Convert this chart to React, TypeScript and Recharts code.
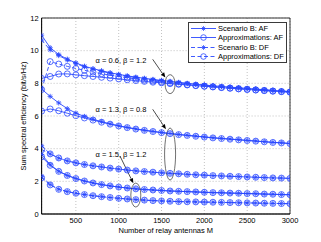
import React from 'react';
import {
  LineChart,
  Line,
  XAxis,
  YAxis,
  CartesianGrid,
  ReferenceArea,
  ReferenceLine,
  ReferenceDot,
  Legend,
} from 'recharts';

// ---- data ----
const relayAntennas = [
  100, 200, 300, 400, 500, 600, 700, 800, 900, 1000,
  1100, 1200, 1300, 1400, 1500, 1600, 1700, 1800, 1900, 2000,
  2100, 2200, 2300, 2400, 2500, 2600, 2700, 2800, 2900, 3000,
];

// alpha = 0.6, beta = 1.2
const g1AfExact = [10.95, 10.18, 9.76, 9.48, 9.25, 9.05, 8.9, 8.77, 8.65, 8.55, 8.46, 8.38, 8.31, 8.24, 8.18, 8.12, 8.06, 8.0, 7.95, 7.9, 7.85, 7.81, 7.77, 7.73, 7.69, 7.65, 7.61, 7.57, 7.54, 7.5];
const g1AfApprox = [8.3, 8.42, 8.57, 8.58, 8.52, 8.47, 8.42, 8.37, 8.32, 8.27, 8.22, 8.17, 8.12, 8.07, 8.03, 7.98, 7.94, 7.9, 7.86, 7.82, 7.78, 7.74, 7.7, 7.66, 7.63, 7.59, 7.56, 7.52, 7.49, 7.46];
const g1DfExact = [10.65, 10.05, 9.7, 9.43, 9.21, 9.02, 8.87, 8.74, 8.62, 8.52, 8.43, 8.35, 8.28, 8.21, 8.15, 8.09, 8.03, 7.98, 7.93, 7.88, 7.83, 7.79, 7.75, 7.71, 7.67, 7.63, 7.59, 7.56, 7.52, 7.49];
const g1DfApprox = [7.62, 9.33, 9.18, 9.04, 8.91, 8.8, 8.69, 8.59, 8.5, 8.42, 8.34, 8.27, 8.2, 8.14, 8.08, 8.03, 7.97, 7.92, 7.87, 7.83, 7.79, 7.75, 7.71, 7.67, 7.63, 7.6, 7.56, 7.53, 7.5, 7.47];

// alpha = 1.3, beta = 0.8
const g2AfExact = [7.65, 7.2, 6.8, 6.45, 6.18, 5.97, 5.8, 5.65, 5.52, 5.4, 5.3, 5.21, 5.13, 5.06, 4.99, 4.93, 4.87, 4.82, 4.77, 4.72, 4.67, 4.63, 4.59, 4.55, 4.51, 4.47, 4.43, 4.39, 4.36, 4.32];
const g2AfApprox = [6.3, 6.43, 6.32, 6.17, 6.02, 5.88, 5.75, 5.62, 5.5, 5.39, 5.29, 5.2, 5.12, 5.05, 4.98, 4.92, 4.86, 4.81, 4.76, 4.71, 4.66, 4.62, 4.58, 4.54, 4.5, 4.46, 4.42, 4.38, 4.35, 4.31];
const g2DfExact = [4.18, 3.68, 3.42, 3.25, 3.13, 3.03, 2.95, 2.88, 2.81, 2.75, 2.69, 2.64, 2.6, 2.56, 2.52, 2.49, 2.46, 2.43, 2.4, 2.38, 2.35, 2.33, 2.31, 2.29, 2.27, 2.25, 2.23, 2.21, 2.2, 2.18];
const g2DfApprox = [3.95, 3.68, 3.43, 3.25, 3.13, 3.03, 2.95, 2.88, 2.81, 2.75, 2.69, 2.64, 2.6, 2.56, 2.52, 2.49, 2.46, 2.43, 2.4, 2.38, 2.35, 2.33, 2.31, 2.29, 2.27, 2.25, 2.23, 2.21, 2.2, 2.18];

// alpha = 1.5, beta = 1.2
const g3AfExact = [3.65, 3.02, 2.62, 2.36, 2.17, 2.02, 1.9, 1.8, 1.72, 1.65, 1.59, 1.54, 1.5, 1.47, 1.44, 1.41, 1.39, 1.37, 1.35, 1.33, 1.31, 1.3, 1.28, 1.27, 1.25, 1.24, 1.22, 1.21, 1.19, 1.18];
const g3AfApprox = [3.5, 2.98, 2.61, 2.36, 2.17, 2.02, 1.9, 1.8, 1.72, 1.65, 1.59, 1.54, 1.5, 1.47, 1.44, 1.41, 1.39, 1.37, 1.35, 1.33, 1.31, 1.3, 1.28, 1.27, 1.25, 1.24, 1.22, 1.21, 1.19, 1.18];
const g3DfExact = [2.3, 1.8, 1.52, 1.37, 1.27, 1.19, 1.12, 1.06, 1.01, 0.96, 0.92, 0.88, 0.85, 0.82, 0.8, 0.78, 0.76, 0.75, 0.74, 0.73, 0.72, 0.71, 0.7, 0.69, 0.68, 0.67, 0.66, 0.65, 0.64, 0.63];
const g3DfApprox = [2.22, 1.78, 1.51, 1.37, 1.27, 1.19, 1.12, 1.06, 1.01, 0.96, 0.92, 0.88, 0.85, 0.82, 0.8, 0.78, 0.76, 0.75, 0.74, 0.73, 0.72, 0.71, 0.7, 0.69, 0.68, 0.67, 0.66, 0.65, 0.64, 0.63];

const xTicks = [500, 1000, 1500, 2000, 2500, 3000];
const yTicks = [0, 2, 4, 6, 8, 10, 12];

const legendLabels = ['Scenario B: AF', 'Approximations: AF', 'Scenario B: DF', 'Approximations: DF'];
const groupLabels = ['\u03b1 = 0.6, \u03b2 = 1.2', '\u03b1 = 1.3, \u03b2 = 0.8', '\u03b1 = 1.5, \u03b2 = 1.2'];
// annotation anchors in data coordinates
const labelAnchors = [
  { x: 1027, y: 9.39 },
  { x: 1027, y: 6.37 },
  { x: 1027, y: 3.66 },
];
const arrowSegments = [
  [{ x: 1397, y: 9.47 }, { x: 1545, y: 8.35 }],
  [{ x: 1397, y: 6.41 }, { x: 1552, y: 5.19 }],
  [{ x: 1015, y: 3.55 }, { x: 1171, y: 1.88 }],
];
const ellipseCenters = [
  { x: 1600, y: 7.95 },
  { x: 1600, y: 3.67 },
  { x: 1200, y: 1.16 },
];
const ellipseRadii = [
  [5, 9.5],
  [5.5, 26],
  [5, 12],
];

// ---- styling ----
const W = 321;
const H = 242;
const BLUE = '#2a48ff';
const FONT = '"Liberation Sans", Arial, Helvetica, sans-serif';
const DASH = '4 2.5';

type SeriesDef = { key: string; values: number[]; kind: 'afExact' | 'afApprox' | 'dfExact' | 'dfApprox' };

const series: SeriesDef[] = [
  { key: 'g1AfExact', values: g1AfExact, kind: 'afExact' },
  { key: 'g1AfApprox', values: g1AfApprox, kind: 'afApprox' },
  { key: 'g1DfExact', values: g1DfExact, kind: 'dfExact' },
  { key: 'g1DfApprox', values: g1DfApprox, kind: 'dfApprox' },
  { key: 'g2AfExact', values: g2AfExact, kind: 'afExact' },
  { key: 'g2AfApprox', values: g2AfApprox, kind: 'afApprox' },
  { key: 'g2DfExact', values: g2DfExact, kind: 'dfExact' },
  { key: 'g2DfApprox', values: g2DfApprox, kind: 'dfApprox' },
  { key: 'g3AfExact', values: g3AfExact, kind: 'afExact' },
  { key: 'g3AfApprox', values: g3AfApprox, kind: 'afApprox' },
  { key: 'g3DfExact', values: g3DfExact, kind: 'dfExact' },
  { key: 'g3DfApprox', values: g3DfApprox, kind: 'dfApprox' },
];

const rows = relayAntennas.map((m, i) => {
  const r: Record<string, number> = { M: m };
  series.forEach((s) => {
    r[s.key] = s.values[i];
  });
  return r;
});

const starShape = (cx: number, cy: number, s: number, k?: string | number) => (
  <g key={k} stroke={BLUE} strokeWidth={0.8}>
    <line x1={cx - s} y1={cy} x2={cx + s} y2={cy} />
    <line x1={cx} y1={cy - s} x2={cx} y2={cy + s} />
    <line x1={cx - s * 0.7} y1={cy - s * 0.7} x2={cx + s * 0.7} y2={cy + s * 0.7} />
    <line x1={cx - s * 0.7} y1={cy + s * 0.7} x2={cx + s * 0.7} y2={cy - s * 0.7} />
  </g>
);

const circleShape = (cx: number, cy: number, r: number, k?: string | number) => (
  <circle key={k} cx={cx} cy={cy} r={r} fill="none" stroke={BLUE} strokeWidth={0.8} />
);

const StarDot = (p: any) => {
  if (p.cx == null || p.cy == null) return <g key={p.index} />;
  return starShape(p.cx, p.cy, 2.6, p.index);
};
const CircleDot = (p: any) => {
  if (p.cx == null || p.cy == null) return <g key={p.index} />;
  return circleShape(p.cx, p.cy, 3, p.index);
};

const legendKinds: SeriesDef['kind'][] = ['afExact', 'afApprox', 'dfExact', 'dfApprox'];

const LegendBox = () => (
  <div
    style={{
      border: '1px solid #3a3a3a',
      background: '#fff',
      width: 97,
      height: 38,
      paddingTop: 0.5,
      boxSizing: 'content-box',
      fontFamily: FONT,
      fontSize: 7.5,
      color: '#000',
    }}
  >
    {legendLabels.map((lab, i) => {
      const kind = legendKinds[i];
      const dashed = kind.startsWith('df');
      const star = kind.endsWith('Exact');
      return (
        <div key={lab} style={{ display: 'flex', alignItems: 'center', height: 9.5, whiteSpace: 'nowrap' }}>
          <svg width={29} height={9} style={{ display: 'block', flex: 'none' }}>
            <line x1={2} y1={4.5} x2={27} y2={4.5} stroke={BLUE} strokeWidth={0.9} strokeDasharray={dashed ? DASH : undefined} />
            {star ? starShape(14.5, 4.5, 2.4) : circleShape(14.5, 4.5, 2.8)}
          </svg>
          <span style={{ lineHeight: '9px' }}>{lab}</span>
        </div>
      );
    })}
  </div>
);

const YLabel = (p: any) => {
  const vb = p.viewBox || { x: 0, y: 18, width: 41.6, height: 196 };
  const x = vb.x + 26;
  const y = vb.y + vb.height / 2;
  return (
    <text
      x={x}
      y={y}
      transform={`rotate(-90, ${x}, ${y})`}
      textAnchor="middle"
      fontFamily={FONT}
      fontSize={7.5}
      fill="#000"
    >
      Sum spectral efficiency (bit/s/Hz)
    </text>
  );
};

const arrowShape = (p: any) => {
  const { x1, y1, x2, y2 } = p;
  if ([x1, y1, x2, y2].some((v) => v == null || isNaN(v))) return <g />;
  const ang = Math.atan2(y2 - y1, x2 - x1);
  const L = 5;
  const w = 2;
  const bx = x2 - L * Math.cos(ang);
  const by = y2 - L * Math.sin(ang);
  const px = -Math.sin(ang) * w;
  const py = Math.cos(ang) * w;
  return (
    <g>
      <line x1={x1} y1={y1} x2={bx} y2={by} stroke="#000" strokeWidth={0.7} />
      <polygon points={`${x2},${y2} ${bx + px},${by + py} ${bx - px},${by - py}`} fill="#000" />
    </g>
  );
};

export default function App() {
  return (
    <div style={{ position: 'fixed', left: 0, top: 0, width: W, height: H, background: '#fff' }}>
      <LineChart width={W} height={H} data={rows} margin={{ top: 18, right: 31, bottom: 0, left: 0 }}>
        <CartesianGrid stroke="#a8a8a8" strokeDasharray="1 2" strokeWidth={0.7} />
        <XAxis
          dataKey="M"
          type="number"
          domain={[100, 3000]}
          ticks={xTicks}
          allowDataOverflow
          height={28}
          tickLine={false}
          tickSize={3}
          tickMargin={0.5}
          axisLine={{ stroke: '#000', strokeWidth: 0.8 }}
          tick={{ fontSize: 7.5, fontFamily: FONT, fill: '#000' }}
          label={{
            value: 'Number of relay antennas M',
            position: 'insideBottom',
            offset: 9,
            style: { fontSize: 7.5, fontFamily: FONT, fill: '#000' },
          }}
        />
        <YAxis
          type="number"
          domain={[0, 12]}
          ticks={yTicks}
          allowDataOverflow
          width={41.6}
          tickLine={false}
          tickSize={2}
          tickMargin={1}
          axisLine={{ stroke: '#000', strokeWidth: 0.8 }}
          tick={{ fontSize: 7.5, fontFamily: FONT, fill: '#000' }}
          label={<YLabel />}
        />
        <ReferenceArea x1={100} x2={3000} y1={0} y2={12} fill="none" stroke="#000" strokeWidth={0.8} />
        {series.map((s) => {
          const dashed = s.kind.startsWith('df');
          const star = s.kind.endsWith('Exact');
          return (
            <Line
              key={s.key}
              dataKey={s.key}
              type="linear"
              stroke={BLUE}
              strokeWidth={0.9}
              strokeDasharray={dashed ? DASH : undefined}
              dot={star ? StarDot : CircleDot}
              activeDot={false}
              isAnimationActive={false}
              legendType="none"
            />
          );
        })}
        {ellipseCenters.map((c, i) => (
          <ReferenceDot
            key={`e${i}`}
            x={c.x}
            y={c.y}
            r={1}
            shape={(p: any) => (
              <ellipse
                cx={p.cx}
                cy={p.cy}
                rx={ellipseRadii[i][0]}
                ry={ellipseRadii[i][1]}
                fill="none"
                stroke="#333"
                strokeWidth={0.7}
              />
            )}
          />
        ))}
        {arrowSegments.map((seg, i) => (
          <ReferenceLine key={`a${i}`} segment={seg} stroke="#000" shape={arrowShape} />
        ))}
        {labelAnchors.map((a, i) => (
          <ReferenceDot
            key={`t${i}`}
            x={a.x}
            y={a.y}
            r={1}
            shape={(p: any) => (
              <text
                x={p.cx}
                y={p.cy}
                textAnchor="middle"
                dominantBaseline="central"
                fontFamily={FONT}
                fontSize={7.5}
                fill="#000"
              >
                {groupLabels[i]}
              </text>
            )}
          />
        ))}
        <Legend
          layout="vertical"
          align="center"
          verticalAlign="middle"
          content={LegendBox}
          wrapperStyle={{ left: 188, top: 22, width: 99, height: 40 }}
        />
      </LineChart>
    </div>
  );
}
